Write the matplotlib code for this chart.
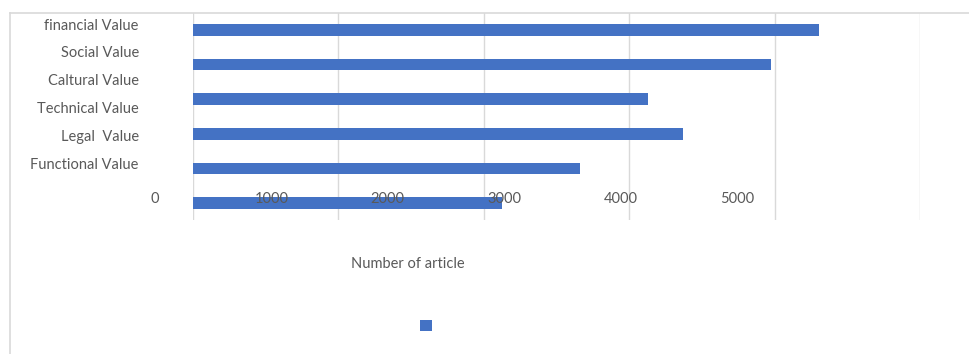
import matplotlib.pyplot as plt
from matplotlib import transforms
from matplotlib.lines import Line2D
from matplotlib.patches import Patch

plt.rcParams['font.family'] = ['Lato', 'DejaVu Sans']

categories = ['financial Value', 'Social Value', 'Caltural Value',
              'Technical Value', 'Legal  Value', 'Functional Value']
bar_values = [4305, 3975, 3129, 3370, 2662, 2125]
tick_values = [0, 1000, 2000, 3000, 4000, 5000]

bar_color = '#4472C4'
grid_color = '#d9d9d9'
text_color = '#595959'

fig = plt.figure(figsize=(9.69, 3.54), dpi=100)
ax = fig.add_axes([193 / 969, 1 - 220 / 354, 727 / 969, 207 / 354])

ax.barh(range(len(bar_values)), bar_values, height=0.34, color=bar_color)
ax.set_xlim(0, 5000)
ax.set_ylim(5.49, -0.49)
ax.set_xticks(tick_values)
ax.set_yticks([])
ax.tick_params(axis='x', length=0, labelbottom=False)
ax.grid(axis='x', color=grid_color, linewidth=1)
ax.set_axisbelow(True)
for s in ax.spines.values():
    s.set_visible(False)

# category labels, spaced differently from the bars
ax3 = ax.twinx()
ax3.yaxis.tick_left()
ax3.set_ylim(7.05, -0.396)
ax3.set_yticks(range(len(categories)))
ax3.set_yticklabels(categories, fontsize=10.5, color=text_color)
ax3.tick_params(axis='y', length=0, pad=39)
for s in ax3.spines.values():
    s.set_visible(False)

# value labels, offset from the gridlines
ax2 = ax.twiny()
ax2.set_xlim(326.5, 6572)
ax2.set_xticks([])
for s in ax2.spines.values():
    s.set_visible(False)
trans = transforms.blended_transform_factory(ax2.transData, ax.transData)
for v in tick_values:
    ax2.text(v, 4.88, str(v), transform=trans, ha='center', va='center',
             fontsize=10.5, color=text_color, clip_on=False)

fig.text(408 / 969, 1 - 264 / 354, 'Number of article', ha='center',
         va='center', fontsize=10.5, color=text_color)

fig.legend(handles=[Patch(facecolor=bar_color)], labels=[''],
           loc='center', bbox_to_anchor=(426 / 969, 1 - 326 / 354),
           frameon=False, handlelength=0.8, handleheight=0.8,
           handletextpad=0)

# chart frame
fig.add_artist(Line2D([10 / 969, 1], [1 - 13 / 354] * 2, color=grid_color,
                      linewidth=1.2, transform=fig.transFigure))
fig.add_artist(Line2D([10 / 969] * 2, [0, 1 - 13 / 354], color=grid_color,
                      linewidth=1.2, transform=fig.transFigure))

fig.savefig('out.png', dpi=100)
